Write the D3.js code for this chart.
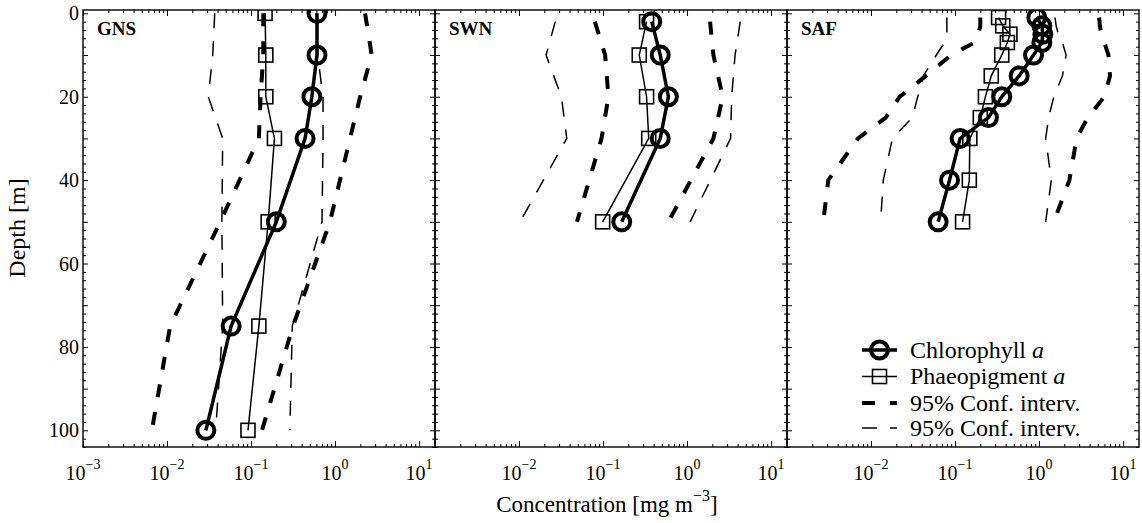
<!DOCTYPE html>
<html><head><meta charset="utf-8">
<script src="https://cdn.jsdelivr.net/npm/d3@7"></script>
<style>
html,body{margin:0;padding:0;background:#fff;}
svg{display:block;font-family:"Liberation Serif","Times New Roman",serif;}
</style></head><body>
<svg id="chart" width="1142" height="523"></svg>
<script>
// Station panels
const panelNames = ["GNS", "SWN", "SAF"];

// GNS profile (depth in m, concentration in mg m^-3)
const gnsDepth     = [0, 10, 20, 30, 50, 75, 100];
const gnsChl       = [0.61, 0.61, 0.53, 0.44, 0.20, 0.058, 0.029];
const gnsPhaeo     = [0.147, 0.15, 0.15, 0.19, 0.16, 0.124, 0.092];
const gnsChlLow    = [0.14, 0.14, 0.13, 0.124, 0.043, 0.0109, 0.0066];
const gnsChlHigh   = [2.28, 2.73, 1.99, 1.51, 0.87, 0.316, 0.135];
const gnsPhaeoLow  = [0.037, 0.035, 0.031, 0.046, 0.045, 0.046, 0.038];
const gnsPhaeoHigh = [0.60, 0.62, 0.72, 0.72, 0.70, 0.31, 0.29];

// SWN profile
const swnDepth     = [2, 10, 20, 30, 50];
const swnChl       = [0.38, 0.48, 0.60, 0.48, 0.167];
const swnPhaeo     = [0.33, 0.27, 0.33, 0.35, 0.099];
const swnChlLow    = [0.080, 0.106, 0.116, 0.096, 0.049];
const swnChlHigh   = [1.88, 2.06, 2.66, 2.06, 0.60];
const swnPhaeoLow  = [0.027, 0.021, 0.032, 0.037, 0.0103];
const swnPhaeoHigh = [4.3, 3.73, 3.4, 3.3, 1.09];

// SAF profile
const safDepth     = [1, 3, 5, 7, 10, 15, 20, 25, 30, 40, 50];
const safChl       = [0.94, 1.08, 1.11, 1.08, 0.86, 0.58, 0.36, 0.25, 0.115, 0.086, 0.063];
const safPhaeo     = [0.33, 0.37, 0.45, 0.42, 0.36, 0.27, 0.23, 0.20, 0.15, 0.148, 0.123];
const safChlLow    = [0.20, 0.20, 0.19, 0.17, 0.09, 0.045, 0.022, 0.015, 0.007, 0.0031, 0.0027];
const safChlHigh   = [5.2, 5.3, 5.5, 6.0, 6.7, 7.0, 6.0, 3.8, 2.8, 2.3, 1.5];
const safPhaeoLow  = [0.08, 0.08, 0.08, 0.075, 0.06, 0.042, 0.036, 0.031, 0.018, 0.014, 0.013];
const safPhaeoHigh = [1.55, 1.6, 1.7, 1.9, 2.1, 1.9, 1.5, 1.3, 1.2, 1.4, 1.2];

// Axis ticks and labels
const depthTicks = [0, 20, 40, 60, 80, 100];
const decadeExponents = [-3, -2, -1, 0, 1];
const legendLabels = ["Chlorophyll ", "Phaeopigment ", "95% Conf. interv.", "95% Conf. interv."];

const profiles = [
  {depth: gnsDepth, chl: gnsChl, phaeo: gnsPhaeo, chlLow: gnsChlLow, chlHigh: gnsChlHigh, phLow: gnsPhaeoLow, phHigh: gnsPhaeoHigh},
  {depth: swnDepth, chl: swnChl, phaeo: swnPhaeo, chlLow: swnChlLow, chlHigh: swnChlHigh, phLow: swnPhaeoLow, phHigh: swnPhaeoHigh},
  {depth: safDepth, chl: safChl, phaeo: safPhaeo, chlLow: safChlLow, chlHigh: safChlHigh, phLow: safPhaeoLow, phHigh: safPhaeoHigh}
];

// Layout
const plotLeft = 83, plotTop = 10, plotBottom = 447, panelWidth = 352;
const xMin = 1e-3, xMax = Math.pow(10, 1.19);

const svg = d3.select("#chart");
svg.append("rect").attr("width", 1142).attr("height", 523).attr("fill", "#fff");

const y = d3.scaleLinear().domain([-0.8, 104]).range([plotTop, plotBottom]);

const thickDash = "13,15", thinDash = "15,13";

function drawPanel(i) {
  const left = plotLeft + i * panelWidth;
  const right = left + panelWidth;
  const x = d3.scaleLog().domain([xMin, xMax]).range([left, right]);
  const p = profiles[i];
  const g = svg.append("g");

  // clip to the panel
  const clipId = "clip" + i;
  svg.append("clipPath").attr("id", clipId).append("rect")
    .attr("x", left).attr("y", plotTop).attr("width", panelWidth).attr("height", plotBottom - plotTop);
  const plot = g.append("g").attr("clip-path", `url(#${clipId})`);

  // ticks
  const majors = decadeExponents.map(e => Math.pow(10, e));
  const minors = [];
  decadeExponents.forEach(e => { for (let k = 2; k <= 9; k++) { const v = k * Math.pow(10, e); if (v <= xMax) minors.push(v); } });

  const addAxis = (axisFn, scale, vals, size, transform) => {
    const a = g.append("g").attr("transform", transform)
      .call(axisFn(scale).tickValues(vals).tickSize(size).tickSizeOuter(0).tickFormat(""));
    a.select(".domain").remove();
    a.selectAll("line").attr("stroke", "#000").attr("stroke-width", 1);
  };
  addAxis(d3.axisBottom, x, majors, -6, `translate(0,${plotBottom})`);
  addAxis(d3.axisBottom, x, minors, -3, `translate(0,${plotBottom})`);
  addAxis(d3.axisTop, x, majors, -6, `translate(0,${plotTop})`);
  addAxis(d3.axisTop, x, minors, -3, `translate(0,${plotTop})`);

  const yMajor = d3.range(0, 101, 10);
  const yMinor = d3.range(0, 105, 2).filter(v => v % 10 !== 0);
  addAxis(d3.axisLeft, y, yMajor, -5, `translate(${left},0)`);
  addAxis(d3.axisLeft, y, yMinor, -3, `translate(${left},0)`);
  addAxis(d3.axisRight, y, yMajor, -5, `translate(${right},0)`);
  addAxis(d3.axisRight, y, yMinor, -3, `translate(${right},0)`);

  // frame
  g.append("rect").attr("x", left).attr("y", plotTop).attr("width", panelWidth).attr("height", plotBottom - plotTop)
    .attr("fill", "none").attr("stroke", "#000").attr("stroke-width", 1.4);

  // x tick labels
  decadeExponents.forEach(e => {
    if (i > 0 && e === -3) return;
    const t = g.append("text").attr("x", x(Math.pow(10, e))).attr("y", 480)
      .attr("text-anchor", "middle").attr("font-size", 20);
    t.append("tspan").text("10");
    t.append("tspan").attr("font-size", 14).attr("dy", -11).text(e < 0 ? "\u2212" + (-e) : String(e));
  });

  // lines
  const line = (vals) => d3.line().x((d, k) => x(vals[k])).y((d, k) => y(p.depth[k]))(p.depth);
  const dashed = (vals, w, dash) => plot.append("path").attr("d", line(vals)).attr("fill", "none")
    .attr("stroke", "#000").attr("stroke-width", w).attr("stroke-dasharray", dash);
  dashed(p.phLow, 1.5, thinDash);
  dashed(p.phHigh, 1.5, thinDash);
  dashed(p.chlLow, 4, thickDash);
  dashed(p.chlHigh, 4, thickDash);

  // phaeopigment
  plot.append("path").attr("d", line(p.phaeo)).attr("fill", "none").attr("stroke", "#000").attr("stroke-width", 1.5);
  plot.selectAll(".sq").data(p.depth).enter().append("rect")
    .attr("x", (d, k) => x(p.phaeo[k]) - 7).attr("y", d => y(d) - 7)
    .attr("width", 14).attr("height", 14).attr("fill", "none").attr("stroke", "#000").attr("stroke-width", 1.6);

  // chlorophyll
  plot.append("path").attr("d", line(p.chl)).attr("fill", "none").attr("stroke", "#000").attr("stroke-width", 3.5);
  plot.selectAll(".ci").data(p.depth).enter().append("circle")
    .attr("cx", (d, k) => x(p.chl[k])).attr("cy", d => y(d)).attr("r", 8.5)
    .attr("fill", "none").attr("stroke", "#000").attr("stroke-width", 4);

  // station label
  g.append("text").attr("x", left + 14).attr("y", 35).attr("font-size", 19).attr("font-weight", "bold")
    .text(panelNames[i]);
}

[0, 1, 2].forEach(drawPanel);

// y tick labels
svg.append("g").selectAll("text").data(depthTicks).enter().append("text")
  .attr("x", 79).attr("y", d => y(d) + 7).attr("text-anchor", "end").attr("font-size", 20).text(d => d);

// axis titles
svg.append("text").attr("transform", "translate(25,228) rotate(-90)").attr("text-anchor", "middle")
  .attr("font-size", 24).text("Depth [m]");
const xt = svg.append("text").attr("x", 607).attr("y", 512).attr("text-anchor", "middle").attr("font-size", 23);
xt.append("tspan").text("Concentration [mg m");
xt.append("tspan").attr("font-size", 16).attr("dy", -11).text("\u22123");
xt.append("tspan").attr("dy", 11).text("]");

// legend
const lg = svg.append("g");
const rowY = [350, 376.5, 403, 428];
const symX0 = 862, symX1 = 897, symXc = (symX0 + symX1) / 2, textX = 910;
const lineSpec = [
  {w: 3.5, dash: null}, {w: 1.5, dash: null}, {w: 4, dash: thickDash}, {w: 1.5, dash: thinDash}
];
rowY.forEach((ry, k) => {
  lg.append("line").attr("x1", symX0).attr("x2", symX1).attr("y1", ry).attr("y2", ry)
    .attr("stroke", "#000").attr("stroke-width", lineSpec[k].w)
    .attr("stroke-dasharray", lineSpec[k].dash);
  if (k === 0) lg.append("circle").attr("cx", symXc).attr("cy", ry).attr("r", 8.5)
    .attr("fill", "none").attr("stroke", "#000").attr("stroke-width", 4);
  if (k === 1) lg.append("rect").attr("x", symXc - 7).attr("y", ry - 7).attr("width", 14).attr("height", 14)
    .attr("fill", "none").attr("stroke", "#000").attr("stroke-width", 1.6);
  const t = lg.append("text").attr("x", textX).attr("y", ry + 7.5).attr("font-size", 24);
  t.append("tspan").text(legendLabels[k]);
  if (k < 2) t.append("tspan").attr("font-style", "italic").text("a");
});
</script>
</body></html>
